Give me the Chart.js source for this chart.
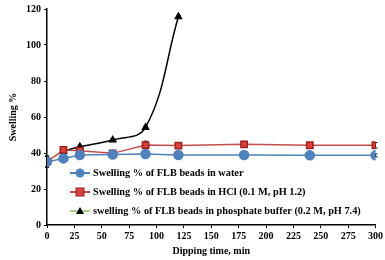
<!DOCTYPE html>
<html><head><meta charset="utf-8">
<script src="https://cdn.jsdelivr.net/npm/chart.js@4"></script>
<style>html,body{margin:0;padding:0;background:#fff}#wrap{width:385px;height:260px}</style>
</head><body><div id="wrap"><canvas id="c" width="385" height="260"></canvas></div>
<script>
const timesWater = [0, 15, 30, 60, 90, 120, 180, 240, 300];
const water = [35.2, 37.0, 38.9, 39.2, 39.4, 38.9, 38.9, 38.7, 38.7];
const waterErr = [3, 1, 0.8, 0.8, 0.8, 0.8, 0.8, 0.8, 0.8];
const timesHCl = [0, 15, 30, 60, 90, 120, 180, 240, 300];
const hcl = [35.2, 41.7, 41.3, 39.8, 44.4, 44.1, 44.8, 44.3, 44.3];
const hclErr = [3, 1.2, 1.2, 1.2, 2.2, 1.5, 1.5, 1.5, 1.5];
const timesPhos = [0, 15, 30, 60, 90, 120];
const phos = [35.2, 40.8, 43.5, 47.2, 54.2, 115.7];
const phosErr = [3, 0.8, 0.8, 0.8, 0.8, 0.8];
const labels = [
  'Swelling % of FLB beads in water',
  'Swelling % of FLB beads in HCl (0.1 M, pH 1.2)',
  'swelling % of FLB beads in phosphate buffer (0.2 M, pH 7.4)'
];
const xTicks = [0,25,50,75,100,125,150,175,200,225,250,275,300];
const yTicks = [0,20,40,60,80,100,120];

const pts = (xs, ys) => xs.map((x,i)=>({x, y: ys[i]}));
const FONT = "'Liberation Serif', 'Times New Roman', serif";
const GREEN = '#a9d18e';

const errPlugin = {
  id: 'err',
  beforeDatasetsDraw(chart) {
    const ctx = chart.ctx, xs = chart.scales.x, ys = chart.scales.y;
    const sets = [[timesWater, water, waterErr],[timesHCl, hcl, hclErr],[timesPhos, phos, phosErr]];
    ctx.save(); ctx.strokeStyle = '#000'; ctx.lineWidth = 1;
    sets.forEach(([t, v, e]) => {
      t.forEach((x, i) => {
        const px = xs.getPixelForValue(x);
        const y1 = ys.getPixelForValue(v[i] + e[i]), y2 = ys.getPixelForValue(v[i] - e[i]);
        ctx.beginPath(); ctx.moveTo(px, y1); ctx.lineTo(px, y2);
        ctx.moveTo(px-2, y1); ctx.lineTo(px+2, y1);
        ctx.moveTo(px-2, y2); ctx.lineTo(px+2, y2); ctx.stroke();
      });
    });
    ctx.restore();
  }
};

const legendPlugin = {
  id: 'inlegend',
  afterDraw(chart) {
    const ctx = chart.ctx;
    const rows = [173, 192, 211];
    ctx.save();
    chart.data.datasets.forEach((ds, i) => {
      const y = rows[i];
      ctx.strokeStyle = ds.borderColor; ctx.lineWidth = 2;
      ctx.beginPath(); ctx.moveTo(70, y); ctx.lineTo(90, y); ctx.stroke();
      ctx.fillStyle = ds.pointBackgroundColor; ctx.strokeStyle = ds.pointBorderColor; ctx.lineWidth = 1;
      const cx = 80;
      if (ds.pointStyle === 'circle') { ctx.beginPath(); ctx.arc(cx, y, 4.5, 0, Math.PI*2); ctx.fill(); }
      else if (ds.pointStyle === 'rect') { ctx.fillRect(cx-4, y-4, 8, 8); ctx.strokeRect(cx-4, y-4, 8, 8); }
      else { ctx.beginPath(); ctx.moveTo(cx, y-4); ctx.lineTo(cx+4, y+3); ctx.lineTo(cx-4, y+3); ctx.closePath(); ctx.fill(); }
      ctx.fillStyle = '#000'; ctx.font = 'bold 10.3px ' + FONT; ctx.textBaseline = 'middle'; ctx.textAlign = 'left';
      ctx.fillText(ds.label, 93, y);
    });
    ctx.restore();
  }
};

new Chart(document.getElementById('c'), {
  type: 'line',
  data: { datasets: [
    { label: labels[0], data: pts(timesWater, water), borderColor: '#4f81bd', borderWidth: 1.5,
      pointStyle: 'circle', pointRadius: 4.5, pointBackgroundColor: '#4f81bd', pointBorderColor: '#4f81bd', tension: 0 },
    { label: labels[1], data: pts(timesHCl, hcl), borderColor: '#c0504d', borderWidth: 1.5,
      pointStyle: 'rect', pointRadius: 4.5, pointBackgroundColor: '#d9403a', pointBorderColor: '#a02020', tension: 0 },
    { label: labels[2], data: pts(timesPhos, phos), borderColor: GREEN, borderWidth: 1.5,
      segment: { borderColor: c => c.p0DataIndex === 0 ? GREEN : '#000' },
      pointStyle: 'triangle', pointRadius: 3.5, pointBackgroundColor: '#000', pointBorderColor: '#000', tension: 0.4 }
  ]},
  options: {
    responsive: false, animation: false,
    layout: { padding: { left: 7, right: 8, top: 4, bottom: 3 } },
    plugins: { legend: { display: false }, tooltip: { enabled: false } },
    scales: {
      x: { type: 'linear', min: 0, max: 300,
        afterBuildTicks: s => { s.ticks = xTicks.map(v => ({value: v})); },
        ticks: { color: '#000', font: { family: FONT, weight: 'bold', size: 10 }, padding: 2, maxRotation: 0, autoSkip: false },
        grid: { drawOnChartArea: false, color: '#000', tickLength: 3 },
        border: { color: '#000', width: 1.5 },
        title: { display: true, text: 'Dipping time, min', color: '#000', font: { family: FONT, weight: 'bold', size: 10 }, padding: { top: 1, bottom: 0 } } },
      y: { min: 0, max: 120,
        afterBuildTicks: s => { s.ticks = yTicks.map(v => ({value: v})); },
        ticks: { color: '#000', font: { family: FONT, weight: 'bold', size: 10 }, padding: 3 },
        grid: { drawOnChartArea: false, color: '#000', tickLength: 3 },
        border: { color: '#000', width: 1.5 },
        title: { display: true, text: 'Swelling %', color: '#000', font: { family: FONT, weight: 'bold', size: 10 }, padding: { top: 0, bottom: 4 } } }
    }
  },
  plugins: [errPlugin, legendPlugin]
});
</script></body></html>
